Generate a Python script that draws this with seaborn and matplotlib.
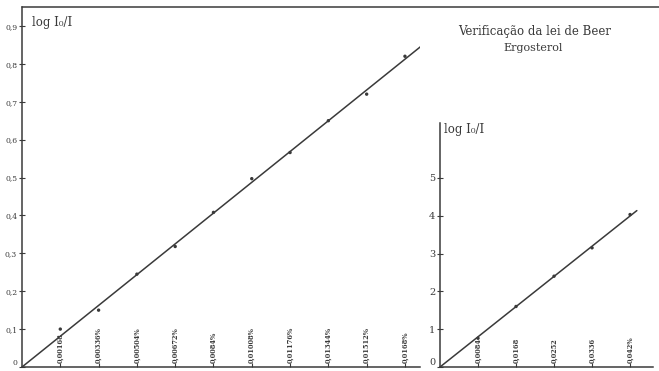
import numpy as np
import pandas as pd
import seaborn as sns
import matplotlib
matplotlib.use("Agg")
import matplotlib.pyplot as plt
from matplotlib.lines import Line2D

sns.set_theme(style="white")
plt.rcParams["font.family"] = ["DejaVu Serif"]

INK = "#3a3a3a"

# Left panel: dilute series
conc_a = [0.00168, 0.00336, 0.00504, 0.00672, 0.0084,
          0.01008, 0.01176, 0.01344, 0.01512, 0.0168]
labels_a = ["0,00168", "0,00336%", "0,00504%", "0,00672%", "0,0084%",
            "0,01008%", "0,01176%", "0,01344%", "0,01512%", "0,0168%"]
absorb_a = [0.10, 0.15, 0.245, 0.318, 0.408, 0.497, 0.566, 0.65, 0.72, 0.82]
yticks_a = [0.1 * i for i in range(10)]
ylabels_a = ["0", "0,1", "0,2", "0,3", "0,4", "0,5", "0,6", "0,7", "0,8", "0,9"]

# Right panel: concentrated series
conc_b = [0.0084, 0.0168, 0.0252, 0.0336, 0.042]
labels_b = ["0,0084", "0,0168", "0,0252", "0,0336", "0,042%"]
absorb_b = [0.76, 1.6, 2.4, 3.15, 4.03]
yticks_b = [0, 1, 2, 3, 4, 5]
ylabels_b = ["0", "1", "2", "3", "4", "5"]

W, H = 659, 371
fig = plt.figure(figsize=(W / 100, H / 100), dpi=100)
fig.patch.set_facecolor("white")


def px_axes(x0, y0, x1, y1):
    return fig.add_axes([x0 / W, 1 - y1 / H, (x1 - x0) / W, (y1 - y0) / H])


def beer_panel(ax, conc, absorb, labels, yticks, ylabels, xmax, ymax, xfit,
               ytick_size, xlabel_size):
    df = pd.DataFrame({"c": conc, "a": absorb})
    c = np.asarray(conc)
    a = np.asarray(absorb)
    slope = (c * a).sum() / (c * c).sum()
    fit = pd.DataFrame({"c": [0.0, xfit], "a": [0.0, slope * xfit]})
    sns.lineplot(data=fit, x="c", y="a", ax=ax, color=INK, lw=1.1)
    sns.scatterplot(data=df, x="c", y="a", ax=ax, color=INK, s=6,
                    edgecolor="none", zorder=3)
    ax.set_xlim(0, xmax)
    ax.set_ylim(0, ymax)
    ax.set_xlabel("")
    ax.set_ylabel("")
    for s in ("top", "right"):
        ax.spines[s].set_visible(False)
    for s in ("left", "bottom"):
        ax.spines[s].set_color(INK)
        ax.spines[s].set_linewidth(1.1)
    ax.set_yticks(yticks)
    ax.set_yticklabels(ylabels, fontsize=ytick_size, color=INK)
    # keep the zero label clear of the lower edge
    ax.get_yticklabels()[0].set_verticalalignment("bottom")
    ax.tick_params(axis="y", direction="inout", length=5, width=0.8,
                   color=INK, pad=1, left=True)
    ax.set_xticks(conc)
    ax.set_xticklabels([])
    ax.tick_params(axis="x", direction="in", length=3, width=0.8,
                   color=INK, bottom=True)
    for xc, lab in zip(conc, labels):
        ax.annotate(lab, xy=(xc, 0), xycoords=("data", "axes fraction"),
                    xytext=(0, 3), textcoords="offset points",
                    rotation=90, ha="center", va="bottom",
                    fontsize=xlabel_size, color=INK, fontweight="bold")
    ax.set_facecolor("none")


axA = px_axes(22, 7, 420, 367)
beer_panel(axA, conc_a, absorb_a, labels_a, yticks_a, ylabels_a,
           xmax=0.01746, ymax=0.95, xfit=0.01804,
           ytick_size=5.5, xlabel_size=4.8)
axA.text(0.025, 0.975, "log I₀/I", transform=axA.transAxes,
         ha="left", va="top", fontsize=8.5, color=INK)

axB = px_axes(440, 123, 653, 367)
beer_panel(axB, conc_b, absorb_b, labels_b, yticks_b, ylabels_b,
           xmax=0.04707, ymax=6.45, xfit=0.0435,
           ytick_size=7, xlabel_size=4.8)
axB.text(0.02, 1.0, "log I₀/I", transform=axB.transAxes,
         ha="left", va="top", fontsize=8.5, color=INK)

# frame line across the top of the sheet
fig.add_artist(Line2D([22 / W, 1.0], [1 - 7 / H, 1 - 7 / H],
                      transform=fig.transFigure, color=INK, lw=1.1))

fig.text(535 / W, 1 - 32 / H, "Verificação da lei de Beer",
         ha="center", va="center", fontsize=8.5, color=INK)
fig.text(533 / W, 1 - 48 / H, "Ergosterol",
         ha="center", va="center", fontsize=8, color=INK)

fig.savefig("out.png", dpi=100, facecolor="white")
